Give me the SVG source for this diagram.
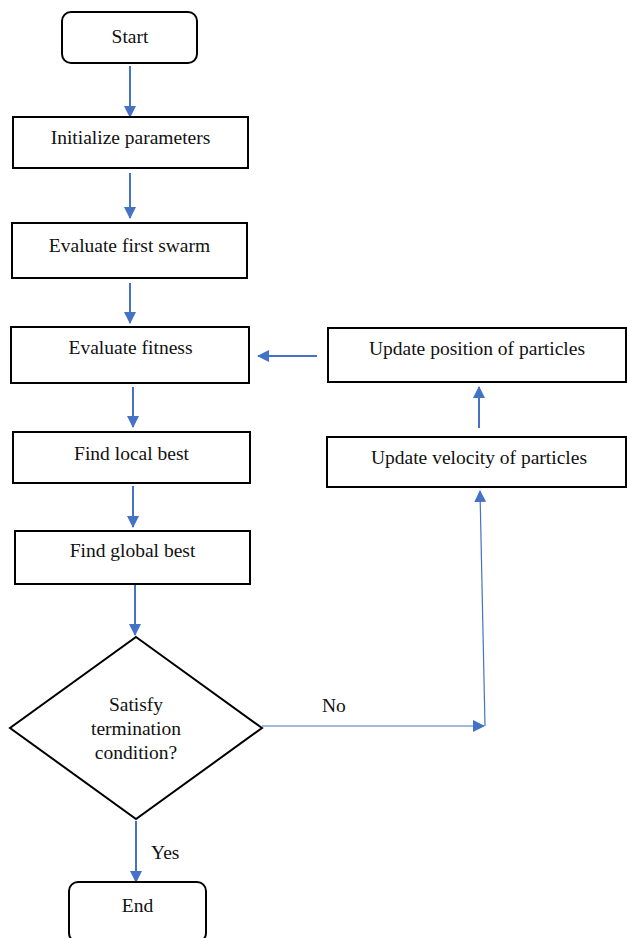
<svg xmlns="http://www.w3.org/2000/svg" width="627" height="938" viewBox="0 0 627 938">
<defs>
<marker id="ah" markerUnits="userSpaceOnUse" markerWidth="12" markerHeight="12" viewBox="0 0 12 12" refX="11" refY="6" orient="auto">
<path d="M0,0 L12,6 L0,12 Z" fill="#4472C4"/>
</marker>
</defs>
<rect width="627" height="938" fill="#fff"/>
<g id="connectors" fill="none" stroke="#4472C4" stroke-width="2">
<line x1="130" y1="66" x2="130" y2="117" marker-end="url(#ah)"/>
<line x1="130" y1="173" x2="130" y2="218" marker-end="url(#ah)"/>
<line x1="130" y1="283" x2="130" y2="323" marker-end="url(#ah)"/>
<line x1="133" y1="387" x2="133" y2="427" marker-end="url(#ah)"/>
<line x1="133" y1="486" x2="133" y2="527" marker-end="url(#ah)"/>
<line x1="135" y1="585" x2="135" y2="635" marker-end="url(#ah)"/>
<line x1="136" y1="821" x2="136" y2="882" marker-end="url(#ah)"/>
<line x1="317" y1="356" x2="258" y2="356" marker-end="url(#ah)"/>
<line x1="479" y1="428" x2="479" y2="387" marker-end="url(#ah)"/>
<line x1="262" y1="726" x2="484" y2="726" stroke-width="1.2" marker-end="url(#ah)"/>
<line x1="485" y1="726" x2="480" y2="491" stroke-width="1.2" marker-end="url(#ah)"/>
</g>
<text font-family="Liberation Serif" font-size="19.5" fill="#111" x="322" y="712">No</text>
<text font-family="Liberation Serif" font-size="19.5" fill="#111" x="151" y="859">Yes</text>
<g id="start" fill="#fff" stroke="#000" stroke-width="2">
<rect x="62" y="12" width="135" height="51" rx="9"/>
</g>
<text font-family="Liberation Serif" font-size="19.5" fill="#111" text-anchor="middle" x="130" y="43">Start</text>
<g id="init" fill="#fff" stroke="#000" stroke-width="2">
<rect x="13" y="117" width="235" height="51"/>
</g>
<text font-family="Liberation Serif" font-size="19.5" fill="#111" text-anchor="middle" x="130.5" y="144">Initialize parameters</text>
<g id="evalswarm" fill="#fff" stroke="#000" stroke-width="2">
<rect x="12" y="223" width="235" height="55"/>
</g>
<text font-family="Liberation Serif" font-size="19.5" fill="#111" text-anchor="middle" x="129.5" y="252">Evaluate first swarm</text>
<g id="evalfit" fill="#fff" stroke="#000" stroke-width="2">
<rect x="11" y="327" width="238" height="56"/>
</g>
<text font-family="Liberation Serif" font-size="19.5" fill="#111" text-anchor="middle" x="130.5" y="354">Evaluate fitness</text>
<g id="localbest" fill="#fff" stroke="#000" stroke-width="2">
<rect x="13" y="432" width="237" height="51"/>
</g>
<text font-family="Liberation Serif" font-size="19.5" fill="#111" text-anchor="middle" x="131.5" y="460">Find local best</text>
<g id="globalbest" fill="#fff" stroke="#000" stroke-width="2">
<rect x="15" y="531" width="235" height="53"/>
</g>
<text font-family="Liberation Serif" font-size="19.5" fill="#111" text-anchor="middle" x="132.5" y="557">Find global best</text>
<g id="decision" fill="#fff" stroke="#000" stroke-width="2">
<polygon points="136,637 262,728 136,819 10,728"/>
</g>
<text font-family="Liberation Serif" font-size="19.5" fill="#111" text-anchor="middle" x="136" y="711">Satisfy</text>
<text font-family="Liberation Serif" font-size="19.5" fill="#111" text-anchor="middle" x="136" y="735">termination</text>
<text font-family="Liberation Serif" font-size="19.5" fill="#111" text-anchor="middle" x="136" y="759">condition?</text>
<g id="end" fill="#fff" stroke="#000" stroke-width="2">
<rect x="69" y="882" width="137" height="60" rx="9"/>
</g>
<text font-family="Liberation Serif" font-size="19.5" fill="#111" text-anchor="middle" x="137.5" y="912">End</text>
<g id="updpos" fill="#fff" stroke="#000" stroke-width="2">
<rect x="328" y="328" width="298" height="54"/>
</g>
<text font-family="Liberation Serif" font-size="19.5" fill="#111" text-anchor="middle" x="477" y="355">Update position of particles</text>
<g id="updvel" fill="#fff" stroke="#000" stroke-width="2">
<rect x="327" y="437" width="299" height="50"/>
</g>
<text font-family="Liberation Serif" font-size="19.5" fill="#111" text-anchor="middle" x="479" y="464">Update velocity of particles</text>
</svg>
